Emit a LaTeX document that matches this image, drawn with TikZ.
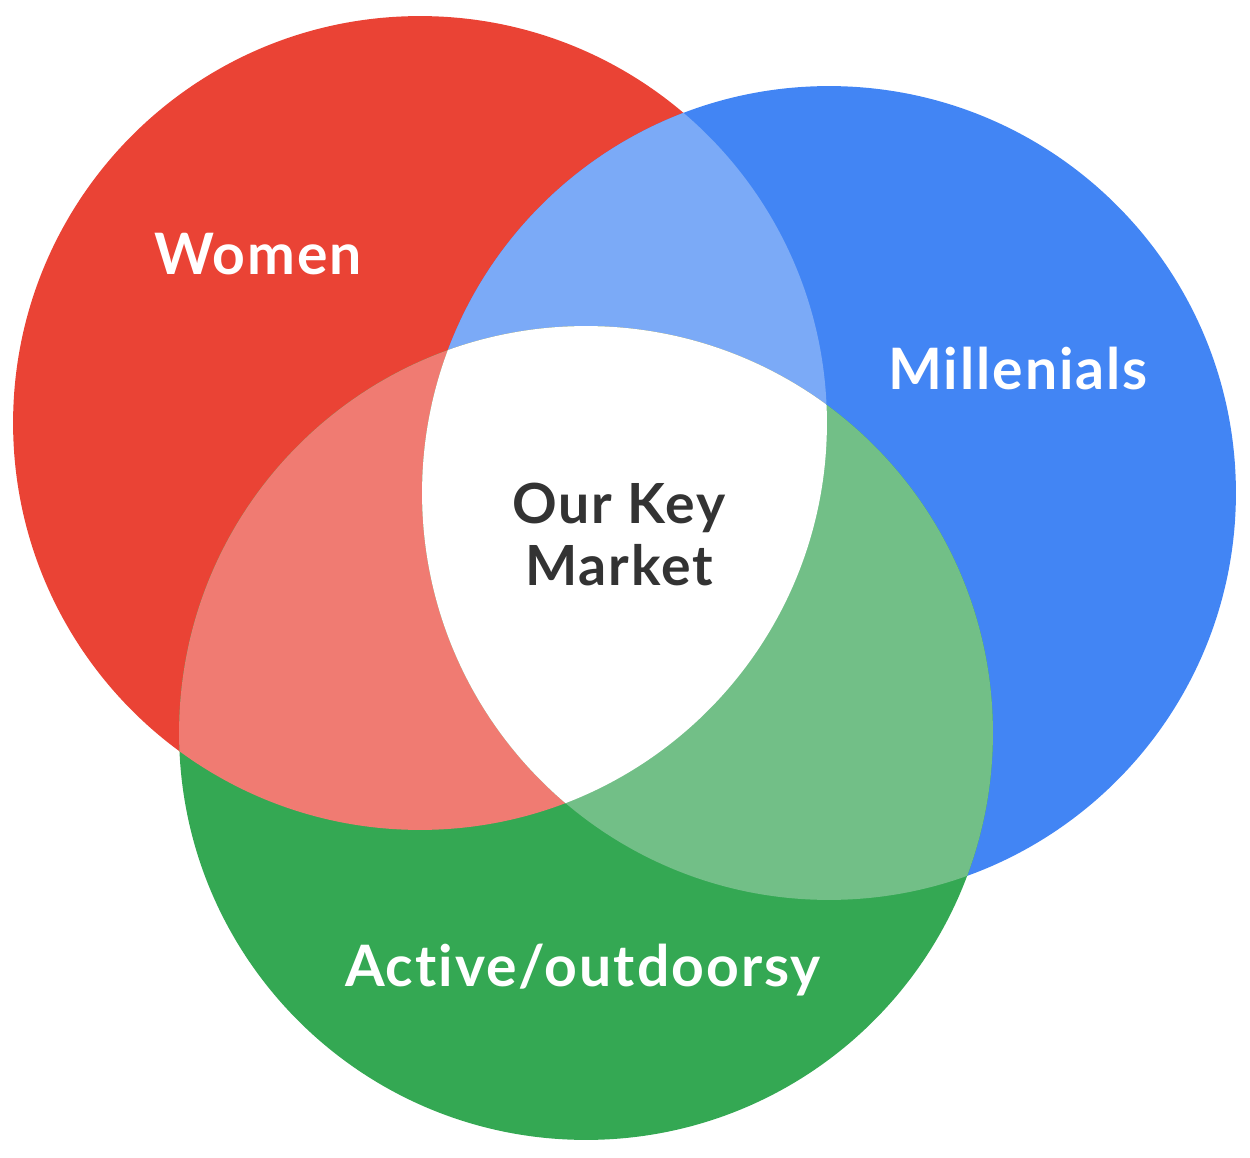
\documentclass[tikz,border=0pt]{standalone}
\usepackage{fontspec}
\setmainfont{Lato}[LetterSpace=3.5, Ligatures={NoCommon}]
\usetikzlibrary{positioning}
\definecolor{womenred}{HTML}{EA4335}
\definecolor{millblue}{HTML}{4285F4}
\definecolor{activegreen}{HTML}{34A853}
\definecolor{lightblue}{HTML}{7BAAF7}
\definecolor{lightred}{HTML}{F07B72}
\definecolor{lightgreen}{HTML}{72BF87}
\definecolor{keygray}{HTML}{333333}
\def\vennr{8.14cm}

\begin{document}
\begin{tikzpicture}[x=0.02cm, y=-0.02cm,
    setname/.style={font=\fontsize{32.5}{35}\selectfont\bfseries, text=white, inner sep=0pt, anchor=base},
    keytext/.style={font=\fontsize{31.5}{35.3}\selectfont\bfseries, text=keygray, inner sep=0pt, align=center, anchor=north}]
    \useasboundingbox (0,0) rectangle (1250,1158);
    % Centres
    \coordinate (women) at (420,423);
    \coordinate (millenials) at (829,493);
    \coordinate (active) at (586,733);
    % Circles
    \fill[womenred] (women) circle[radius=\vennr];
    \fill[millblue] (millenials) circle[radius=\vennr];
    \fill[activegreen] (active) circle[radius=\vennr];
    % Overlaps
    \begin{scope}
        \clip (women) circle[radius=\vennr];
        \fill[lightblue] (millenials) circle[radius=\vennr];
        \fill[lightred] (active) circle[radius=\vennr];
    \end{scope}
    \begin{scope}
        \clip (millenials) circle[radius=\vennr];
        \fill[lightgreen] (active) circle[radius=\vennr];
    \end{scope}
    \begin{scope}
        \clip (women) circle[radius=\vennr];
        \clip (millenials) circle[radius=\vennr];
        \fill[white] (active) circle[radius=\vennr];
    \end{scope}
    % Labels
    \node[setname] (womenlabel) at (258,275) {Women};
    \node[setname] (milllabel) at (1018,390) {Millenials};
    \node[setname] (activelabel) at (583,986) {Active/outdoorsy};
    \node[keytext] (keymarket) at (619,483) {Our Key\\Market};
\end{tikzpicture}
\end{document}
